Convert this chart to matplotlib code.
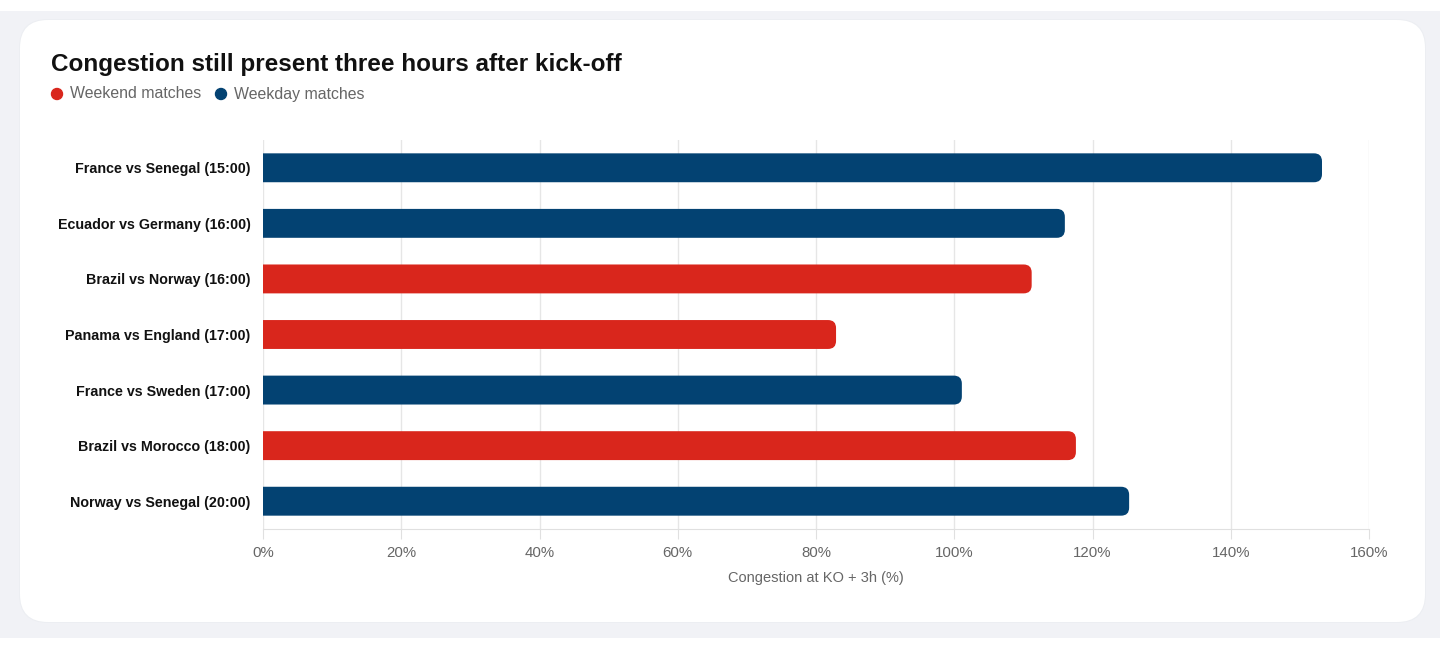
import matplotlib
matplotlib.use("Agg")
import matplotlib.pyplot as plt
from matplotlib.patches import FancyBboxPatch
from matplotlib.ticker import FuncFormatter

plt.rcParams['font.family'] = ['Liberation Sans', 'DejaVu Sans']

categories = ["France vs Senegal (15:00)", "Ecuador vs Germany (16:00)", "Brazil vs Norway (16:00)",
              "Panama vs England (17:00)", "France vs Sweden (17:00)", "Brazil vs Morocco (18:00)",
              "Norway vs Senegal (20:00)"]
values = [153.2, 116.0, 111.2, 82.9, 101.1, 117.6, 125.3]
day_type = ["weekday", "weekday", "weekend", "weekend", "weekday", "weekend", "weekday"]
xticks = [0, 20, 40, 60, 80, 100, 120, 140, 160]

RED = "#d9261c"
BLUE = "#034272"
colors = {"weekend": RED, "weekday": BLUE}

W, H = 1440, 650
fig = plt.figure(figsize=(W / 100, H / 100), dpi=100)
fig.patch.set_facecolor("white")

# background band and card
bg = fig.add_axes([0, 0, 1, 1], zorder=-10)
bg.set_xlim(0, W); bg.set_ylim(H, 0); bg.axis("off")
bg.add_patch(plt.Rectangle((0, 11), W, 627, facecolor="#f1f2f6", edgecolor="none"))
bg.add_patch(FancyBboxPatch((19, 19), 1407, 604, boxstyle="round,pad=0,rounding_size=29",
                            facecolor="#eceef2", edgecolor="none"))
bg.add_patch(FancyBboxPatch((20, 20), 1405, 602, boxstyle="round,pad=0,rounding_size=28",
                            facecolor="white", edgecolor="none"))

# main axes
x0, x1 = 263, 1369
y0, y1 = 140, 529
ax = fig.add_axes([x0 / W, 1 - y1 / H, (x1 - x0) / W, (y1 - y0) / H])
ax.set_xlim(0, 160)
n = len(categories)
ax.set_ylim(n - 0.5, -0.5)
ax.set_facecolor("none")

bars = ax.barh(range(n), values, height=0.52, color=[colors[d] for d in day_type])
# replace with rounded-end bars
px_x = 160 / (x1 - x0)
px_y = n / (y1 - y0)
r_px = 8
aspect = px_y / px_x
for b in bars:
    b.set_visible(False)
    x, y, w, h = b.get_x(), b.get_y(), b.get_width(), b.get_height()
    p = FancyBboxPatch((x - 3, y), w + 3, h, boxstyle=f"round,pad=0,rounding_size={r_px * px_x}",
                       mutation_aspect=aspect, facecolor=b.get_facecolor(), edgecolor="none",
                       zorder=3)
    p.set_clip_on(True)
    ax.add_patch(p)

ax.set_xticks(xticks)
ax.xaxis.set_major_formatter(FuncFormatter(lambda v, _: f"{v:.0f}%"))
ax.grid(axis="x", color="#e6e6e6", linewidth=1, zorder=0)
ax.set_axisbelow(True)
for s in ["top", "right", "left"]:
    ax.spines[s].set_visible(False)
ax.spines["bottom"].set_color("#e0e0e0")
ax.tick_params(axis="x", length=7, color="#e0e0e0", labelsize=10.8, labelcolor="#666666", pad=5)
ax.tick_params(axis="y", length=0, pad=9)
ax.set_yticks(range(n))
ax.set_yticklabels(categories, fontsize=10.3, fontweight="bold", color="#111111")
ax.set_xlabel("Congestion at KO + 3h (%)", fontsize=10.5, color="#666666", labelpad=8)

# title and legend
fig.text(51 / W, 1 - 65 / H, "Congestion still present three hours after kick-off",
         fontsize=17.5, fontweight="bold", color="#111111", va="center", ha="left")
for cx, label, c in [(57, "Weekend matches", RED), (221, "Weekday matches", BLUE)]:
    bg.add_patch(plt.Circle((cx, 94), 5.5, color=c))
    bg.text(cx + 13, 94, label, fontsize=11.4, color="#666666", va="center", ha="left")

fig.savefig("out.png", dpi=100)
